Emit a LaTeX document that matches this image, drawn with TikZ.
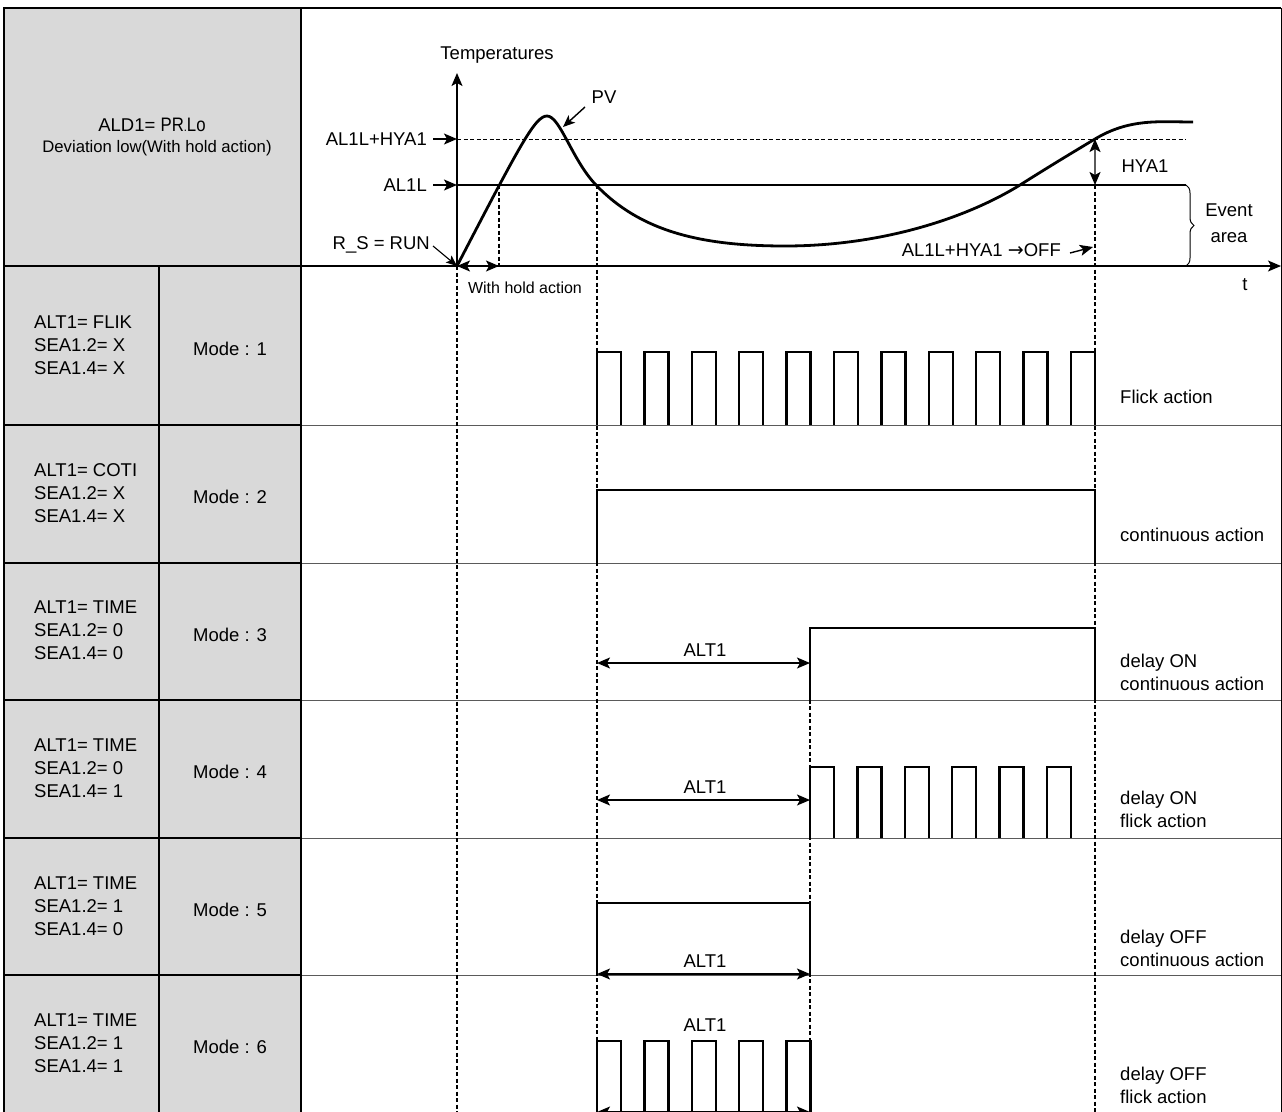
\documentclass[tikz,border=0pt]{standalone}
\usepackage{fontspec}
\setmainfont{Liberation Sans}
\newfontfamily\djv{DejaVu Sans}
\usetikzlibrary{arrows.meta,decorations.pathreplacing}
\definecolor{cellgray}{RGB}{217,217,217}
\definecolor{rowgray}{RGB}{90,90,90}
\begin{document}
\begin{tikzpicture}[x=1pt,y=-1pt,
  every node/.style={font=\fontsize{18.5}{22.8}\selectfont, inner sep=0pt},
  small/.style={font=\fontsize{16.7}{20}\selectfont},
  tab/.style={line width=1.6pt, black},
  rowline/.style={line width=1pt, rowgray},
  guide/.style={line width=1.1pt, dash pattern=on 4pt off 2.5pt},
  sig/.style={line width=2.3pt, line join=miter},
  pv/.style={line width=2.8pt},
  arr/.style={line width=1.4pt, -{Stealth[length=13pt,width=11pt,inset=3pt]}},
  darr/.style={line width=1.4pt, {Stealth[length=13pt,width=11pt,inset=3pt]}-{Stealth[length=13pt,width=11pt,inset=3pt]}},
  lefttxt/.style={anchor=west, align=left},
  righttxt/.style={anchor=west, align=left},
]
\useasboundingbox (0,0) rectangle (1282,1111);
\clip (0,0) rectangle (1282,1111);

% ---------- table ----------
\fill[cellgray] (4,8) rectangle (301,1120);
\foreach \yy in {425,563,700,838,975}{
  \draw[rowline] (301,\yy) -- (1282,\yy);
  \draw[tab] (4,\yy) -- (301,\yy);
}
\draw[tab] (4,266) -- (301,266);
\draw[tab] (4,1120) -- (4,8) -- (1281,8);
\draw[line width=1pt] (1281,8) -- (1281,1120);
\draw[tab] (301,8) -- (301,1120);
\draw[tab] (159,266) -- (159,1120);

% ---------- header text ----------
\node (ald) at (152,125) {ALD1= {\fontsize{19.5}{21}\selectfont\scalebox{0.86}[1]{PR{\fontsize{13}{13}\selectfont.}Lo}}};
\node[small] (dev) at (157,148) {Deviation low(With hold action)};

% ---------- axes ----------
\coordinate (O) at (457,266);
\coordinate (ytop) at (457,73);
\coordinate (tend) at (1281,266);
\draw[arr] (O) -- (ytop);
\draw[arr] (301,266) -- (tend);
\node (temp) at (497,55) {Temperatures};
\node (tlab) at (1245,285) {t};

% levels
\coordinate (yH) at (457,139);
\coordinate (yL) at (457,185);
\draw[guide, line width=1pt] (yH) -- (1186,139);
\draw[line width=1.1pt] (yL) -- (1186,185);
\node[anchor=east] (lH) at (427,139) {AL1L+HYA1};
\node[anchor=east] (lL) at (427,185) {AL1L};
\draw[arr] ([xshift=6pt]lH.east) -- (yH);
\draw[arr] ([xshift=6pt]lL.east) -- (yL);
\node[anchor=east] (rs) at (430,245) {R\_S = RUN};
\draw[line width=1.1pt, -{Stealth[length=11pt,width=9pt,inset=2.5pt]}] ([xshift=3pt,yshift=-1pt]rs.east) -- (O);

% PV curve
\draw[pv] (O) .. controls (520,145) and (535,116) .. (547,116)
  .. controls (560,116) and (572,160) .. (596,185)
  .. controls (640,231) and (700,246) .. (785,246)
  .. controls (880,246) and (965,219) .. (1020,185)
  .. controls (1050,166) and (1075,151) .. (1095,139)
  .. controls (1130,118) and (1160,122) .. (1193,122);
\node (pvl) at (604,97) {PV};
\coordinate (pvpt) at (563,127);
\draw[line width=1.4pt, -{Stealth[length=12pt,width=10pt,inset=3pt]}] (585,107) -- (pvpt);

% guide lines
\draw[guide] (499,185) -- (499,266);
\draw[guide] (457,266) -- (457,1120);
\draw[guide] (597,185) -- (597,1120);
\draw[guide] (1095,185) -- (1095,1120);
\draw[guide] (810,628) -- (810,1120);

% hold action
\coordinate (hold) at (499,266);
\draw[darr] (O) -- (hold);
\node[font=\fontsize{16}{18}\selectfont] (holdl) at (525,288) {With hold action};

% HYA1
\coordinate (hyT) at (1095,139);
\coordinate (hyB) at (1095,185);
\draw[line width=2pt, draw=rowgray, {Stealth[length=13pt,width=11pt,inset=3pt,color=black]}-{Stealth[length=13pt,width=11pt,inset=3pt,color=black]}] (hyT) -- (hyB);
\node (hyl) at (1145,166) {HYA1};

% off label
\node[anchor=east] (offl) at (1061,250) {AL1L+HYA1 {\djv\fontsize{19}{20}\selectfont →}OFF};
\coordinate (offpt) at (1093,247);
\draw[arr] ([xshift=9pt,yshift=-3pt]offl.east) -- (offpt);

% event area brace
\draw[line width=1pt, decorate, decoration={brace, amplitude=8pt}] (1186,185) -- (1186,266);
\node (ev) at (1229,210) {Event};
\node (ar) at (1229,238) {area};

% ---------- left column ----------
\node[lefttxt] (c1) at (34,345) {ALT1= FLIK\\SEA1.2= X\\SEA1.4= X};
\node[lefttxt] (c2) at (34,493) {ALT1= COTI\\SEA1.2= X\\SEA1.4= X};
\node[lefttxt] (c3) at (34,630) {ALT1= TIME\\SEA1.2= 0\\SEA1.4= 0};
\node[lefttxt] (c4) at (34,768) {ALT1= TIME\\SEA1.2= 0\\SEA1.4= 1};
\node[lefttxt] (c5) at (34,906) {ALT1= TIME\\SEA1.2= 1\\SEA1.4= 0};
\node[lefttxt] (c6) at (34,1043) {ALT1= TIME\\SEA1.2= 1\\SEA1.4= 1};
\node (m1) at (230,349) {Mode : 1};
\node (m2) at (230,497) {Mode : 2};
\node (m3) at (230,635) {Mode : 3};
\node (m4) at (230,772) {Mode : 4};
\node (m5) at (230,910) {Mode : 5};
\node (m6) at (230,1047) {Mode : 6};

% ---------- signals ----------
% mode 1
\foreach \i in {0,...,10}
  \draw[sig] ({597+47.4*\i},425) -- ++(0,-73) -- ++(24,0) -- ++(0,73);
% mode 2
\draw[sig] (597,563) -- (597,490) -- (1095,490) -- (1095,563);
% mode 3
\draw[sig] (810,700) -- (810,628) -- (1095,628) -- (1095,700);
\coordinate (a3l) at (597,663); \coordinate (a3r) at (810,663);
\draw[darr] (a3l) -- (a3r);
\node (alt3) at (705,650) {ALT1};
% mode 4
\foreach \i in {0,...,5}
  \draw[sig] ({810+47.4*\i},838) -- ++(0,-71) -- ++(24,0) -- ++(0,71);
\coordinate (a4l) at (597,800); \coordinate (a4r) at (810,800);
\draw[darr] (a4l) -- (a4r);
\node (alt4) at (705,787) {ALT1};
% mode 5
\draw[sig] (597,975) -- (597,903) -- (810,903) -- (810,975);
\coordinate (a5l) at (597,974); \coordinate (a5r) at (810,974);
\draw[darr] (a5l) -- (a5r);
\node (alt5) at (705,961) {ALT1};
% mode 6
\foreach \i in {0,...,4}
  \draw[sig] ({597+47.4*\i},1120) -- ++(0,-79) -- ++(24,0) -- ++(0,79);
\coordinate (a6l) at (597,1112); \coordinate (a6r) at (810,1112);
\draw[darr] (a6l) -- (a6r);
\node (alt6) at (705,1025) {ALT1};

% ---------- right labels ----------
\node[righttxt] (r1) at (1120,397) {Flick action};
\node[righttxt] (r2) at (1120,535) {continuous action};
\node[righttxt] (r3) at (1120,672) {delay ON\\continuous action};
\node[righttxt] (r4) at (1120,809.5) {delay ON\\flick action};
\node[righttxt] (r5) at (1120,948) {delay OFF\\continuous action};
\node[righttxt] (r6) at (1120,1085.5) {delay OFF\\flick action};
\end{tikzpicture}
\end{document}
